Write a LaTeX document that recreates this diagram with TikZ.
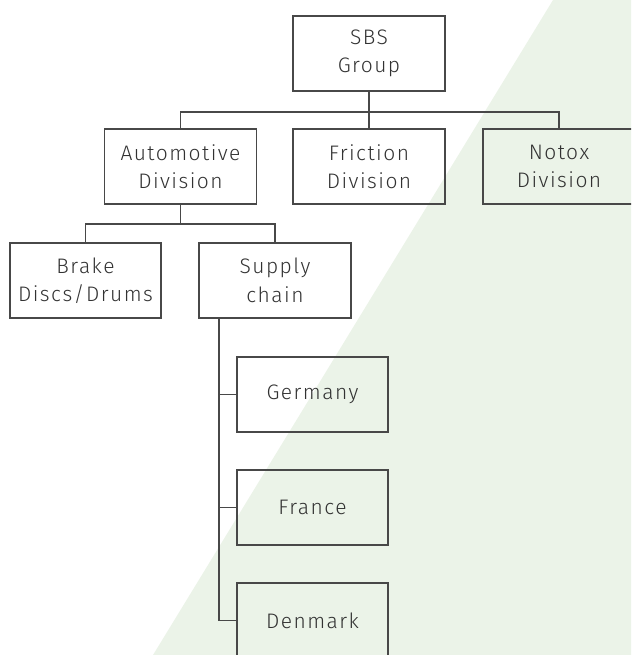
\documentclass[tikz,border=0pt]{standalone}
\usepackage{fontspec}
\setmainfont{Fira Sans Light}[LetterSpace=7]
\definecolor{bggreen}{RGB}{235,243,232}
\definecolor{linegray}{RGB}{72,72,72}
\definecolor{textgray}{RGB}{50,50,50}
\begin{document}
\begin{tikzpicture}[x=1pt,y=-1pt,
  box/.style={draw=linegray,line width=1.4pt,minimum width=152pt,minimum height=75pt,
    inner sep=0pt,align=center,text=textgray,font=\fontsize{21}{28.5}\selectfont},
  conn/.style={draw=linegray,line width=1.4pt}]
\useasboundingbox (0,0) rectangle (631,655);
\clip (0,0) rectangle (631,655);
\fill[bggreen] (553,0) -- (631,0) -- (631,655) -- (153,655) -- cycle;
\node[box] (sbs) at (369,53.5) {SBS\\Group};
\node[box] (auto) at (180.5,166.5) {Automotive\\Division};
\node[box] (fric) at (369,166.5) {Friction\\Division};
\node[box] (notox) at (559,166.5) {Notox\\Division};
\node[box,minimum width=151pt] (brake) at (85.5,280.5) {Brake\\Discs/Drums};
\node[box] (supply) at (275,280.5) {Supply\\chain};
\node[box,minimum width=151pt] (ger) at (312.5,394.5) {Germany};
\node[box,minimum width=151pt] (fra) at (312.5,507.5) {France};
\node[box,minimum width=151pt] (den) at (312.5,620.5) {Denmark};
\coordinate (bus1) at (369,112);
\coordinate (bus2) at (180.5,224);
\draw[conn] (sbs.south) -- (fric.north);
\draw[conn] (auto.north) |- (bus1) -| (notox.north);
\draw[conn] (auto.south) -- (bus2);
\draw[conn] (brake.north) |- (bus2) -| (supply.north);
\draw[conn] ([xshift=-56pt]supply.south) |- (den.west);
\draw[conn] ([xshift=-56pt]supply.south) |- (ger.west);
\draw[conn] ([xshift=-56pt]supply.south) |- (fra.west);
\end{tikzpicture}
\end{document}
